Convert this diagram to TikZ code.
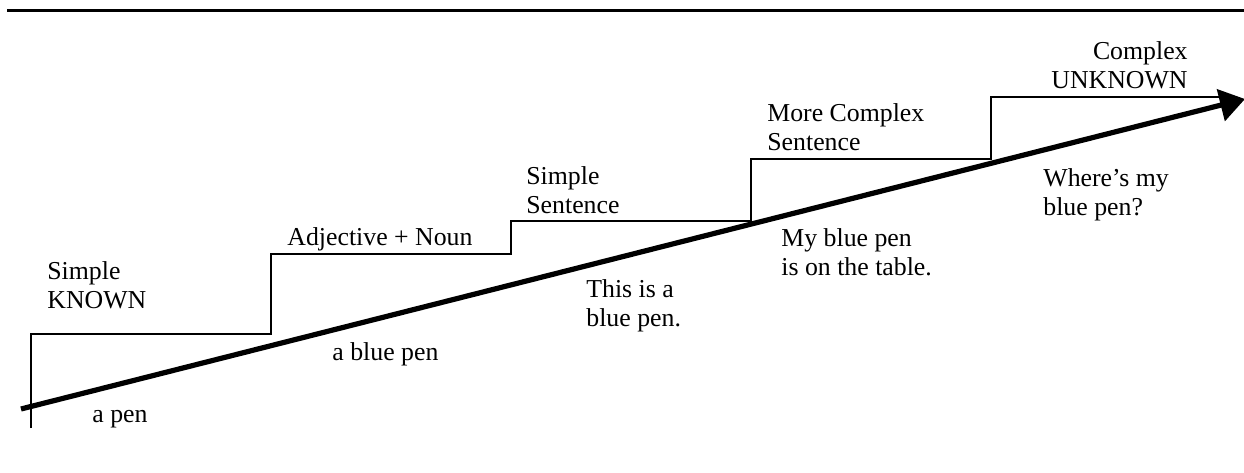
\documentclass[tikz,border=0pt]{standalone}
\usepackage{fontspec}
\setmainfont{Liberation Serif}
\usetikzlibrary{arrows.meta}
\begin{document}
\begin{tikzpicture}[x=0.5pt,y=-0.5pt,
  lbl/.style={anchor=base west,inner sep=0pt,align=left,font=\fontsize{12.9pt}{14.5pt}\selectfont},
  rlbl/.style={anchor=base east,inner sep=0pt,align=right,font=\fontsize{12.9pt}{14.5pt}\selectfont},
  stair/.style={line width=1pt},
  rule/.style={line width=1.5pt},
  bigarrow/.style={line width=2.6pt,-{Triangle[length=12.5pt,width=16pt]}}]
\useasboundingbox (0,0) rectangle (1244,472);
% top rule
\coordinate (r1) at (7,10);
\coordinate (r2) at (1244,10);
\draw[rule] (r1) -- (r2);
% staircase
\coordinate (s0) at (31,428);
\coordinate (s1) at (31,334);
\coordinate (s2) at (271,334);
\coordinate (s3) at (271,254);
\coordinate (s4) at (511,254);
\coordinate (s5) at (511,221);
\coordinate (s6) at (751,221);
\coordinate (s7) at (751,159);
\coordinate (s8) at (991,159);
\coordinate (s9) at (991,97);
\coordinate (s10) at (1227,97);
\draw[stair] (s0) -- (s1) -- (s2) -- (s3) -- (s4) -- (s5) -- (s6) -- (s7) -- (s8) -- (s9) -- (s10);
% arrow
\coordinate (a0) at (21,409);
\coordinate (a1) at (1245,99);
\draw[bigarrow] (a0) -- (a1);
% labels above (anchor at the baseline of the last line)
\node[lbl] (t1) at (47,308) {Simple\\KNOWN};
\node[lbl] (t2) at (287,245) {Adjective + Noun};
\node[lbl] (t3) at (526,213) {Simple\\Sentence};
\node[lbl] (t4) at (767,150) {More Complex\\Sentence};
\node[rlbl] (t5) at (1188,88) {Complex\\UNKNOWN};
% labels below
\node[lbl] (b1) at (92,422) {a pen};
\node[lbl] (b2) at (332,360) {a blue pen};
\node[lbl] (b3) at (586,326) {This is a\\blue pen.};
\node[lbl] (b4) at (781,275) {My blue pen\\is on the table.};
\node[lbl] (b5) at (1043,215) {Where’s my\\blue pen?};
\end{tikzpicture}
\end{document}
